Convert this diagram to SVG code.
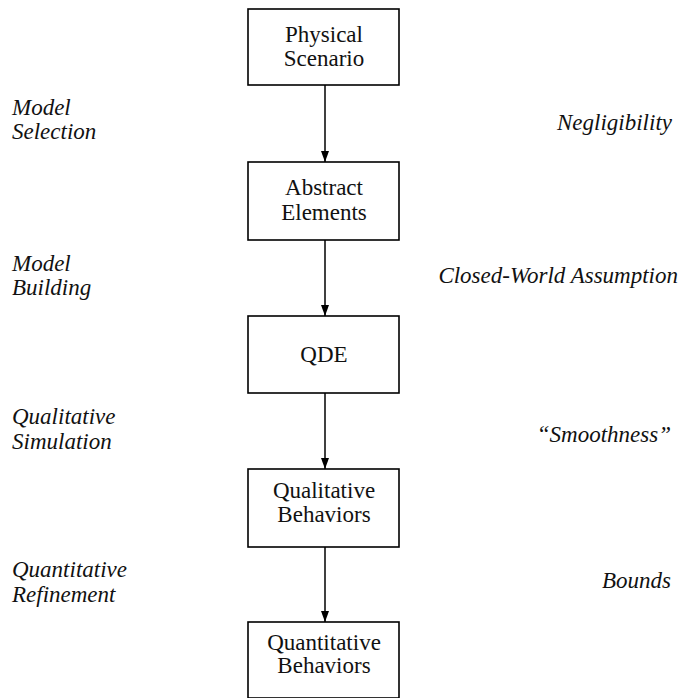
<svg xmlns="http://www.w3.org/2000/svg" width="681" height="698" viewBox="0 0 681 698">
<style>
.box{fill:#fff;stroke:#000;stroke-width:1.6}
.t{font-family:"Liberation Serif","Times New Roman",serif;font-size:23px;fill:#111;text-anchor:middle}
.l{font-family:"Liberation Serif","Times New Roman",serif;font-size:23px;font-style:italic;fill:#111}
.r{font-family:"Liberation Serif","Times New Roman",serif;font-size:23px;font-style:italic;fill:#111;text-anchor:end}
.c{stroke:#000;stroke-width:1.5;fill:none}
</style>
<defs>
<marker id="ah" markerWidth="12" markerHeight="8" refX="11" refY="4" orient="auto" markerUnits="userSpaceOnUse" viewBox="0 0 12 8">
<path d="M0,0 L11,4 L0,8 Z" fill="#000"/>
</marker>
</defs>
<rect width="681" height="698" fill="#fff"/>
<g id="connectors">
<line class="c" x1="325" y1="85" x2="325" y2="162" marker-end="url(#ah)"/>
<line class="c" x1="325" y1="240" x2="325" y2="316" marker-end="url(#ah)"/>
<line class="c" x1="325" y1="393" x2="325" y2="469" marker-end="url(#ah)"/>
<line class="c" x1="325" y1="547" x2="325" y2="622" marker-end="url(#ah)"/>
</g>
<g id="physical-scenario">
<rect class="box" x="248" y="9" width="151" height="76"/>
<text class="t" x="324" y="42">Physical</text>
<text class="t" x="324" y="66">Scenario</text>
</g>
<g id="abstract-elements">
<rect class="box" x="248" y="162" width="151" height="78"/>
<text class="t" x="324" y="195">Abstract</text>
<text class="t" x="324" y="220">Elements</text>
</g>
<g id="qde">
<rect class="box" x="248" y="316" width="151" height="77"/>
<text class="t" x="324" y="362">QDE</text>
</g>
<g id="qualitative-behaviors">
<rect class="box" x="248" y="469" width="151" height="78"/>
<text class="t" x="324" y="498">Qualitative</text>
<text class="t" x="324" y="522">Behaviors</text>
</g>
<g id="quantitative-behaviors">
<rect class="box" x="248" y="622" width="151" height="76"/>
<text class="t" x="324" y="650">Quantitative</text>
<text class="t" x="324" y="673">Behaviors</text>
</g>
<g id="left-labels">
<text class="l" x="12" y="115">Model</text>
<text class="l" x="12" y="139">Selection</text>
<text class="l" x="12" y="271">Model</text>
<text class="l" x="12" y="295">Building</text>
<text class="l" x="12" y="424">Qualitative</text>
<text class="l" x="12" y="449">Simulation</text>
<text class="l" x="12" y="577">Quantitative</text>
<text class="l" x="12" y="602">Refinement</text>
</g>
<g id="right-labels">
<text class="r" x="672" y="130">Negligibility</text>
<text class="r" x="678" y="283">Closed-World Assumption</text>
<text class="r" x="671" y="442">“Smoothness”</text>
<text class="r" x="671" y="588">Bounds</text>
</g>
</svg>
